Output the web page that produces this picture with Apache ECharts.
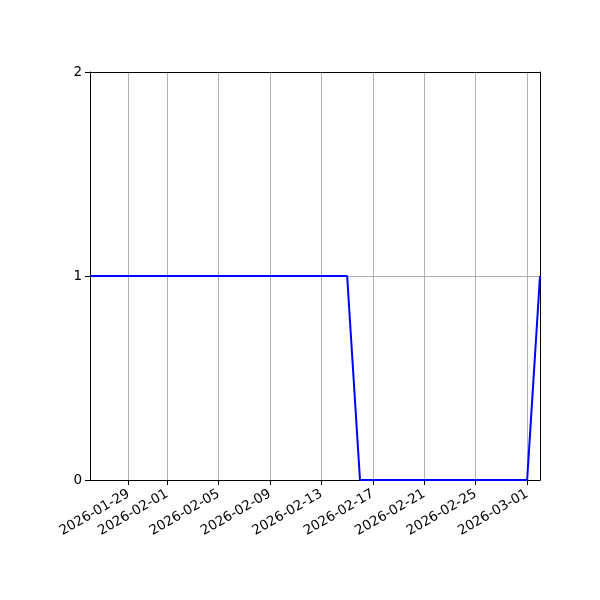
<!DOCTYPE html>
<html>
<head>
<meta charset="utf-8">
<script src="https://cdn.jsdelivr.net/npm/echarts@6/dist/echarts.min.js"></script>
<style>html,body{margin:0;padding:0;background:#fff}#c{width:600px;height:600px}</style>
</head>
<body>
<div id="c"></div>
<script>
// Daily dates from 2026-01-26 to 2026-03-02
const dates = ['2026-01-26','2026-01-27','2026-01-28','2026-01-29','2026-01-30','2026-01-31',
  '2026-02-01','2026-02-02','2026-02-03','2026-02-04','2026-02-05','2026-02-06','2026-02-07',
  '2026-02-08','2026-02-09','2026-02-10','2026-02-11','2026-02-12','2026-02-13','2026-02-14',
  '2026-02-15','2026-02-16','2026-02-17','2026-02-18','2026-02-19','2026-02-20','2026-02-21',
  '2026-02-22','2026-02-23','2026-02-24','2026-02-25','2026-02-26','2026-02-27','2026-02-28',
  '2026-03-01','2026-03-02'];
const values = [1,1,1,1,1,1,1,1,1,1,1,1,1,1,1,1,1,1,1,1,1,
  0,0,0,0,0,0,0,0,0,0,0,0,0,0,1];
const xTickLabels = ['2026-01-29','2026-02-01','2026-02-05','2026-02-09','2026-02-13',
  '2026-02-17','2026-02-21','2026-02-25','2026-03-01'];
const yTicks = [0,1,2];

const isTick = (i, v) => xTickLabels.indexOf(v) >= 0;
const chart = echarts.init(document.getElementById('c'), null, {renderer:'canvas'});
chart.setOption({
  animation:false,
  grid:{left:90,right:60,top:72,bottom:120,show:false},
  xAxis:[{
    type:'category', data:dates, boundaryGap:false, position:'bottom',
    axisLine:{show:true,lineStyle:{color:'#000',width:1}},
    axisTick:{show:true,interval:isTick,length:5,inside:false,lineStyle:{color:'#000',width:1}},
    axisLabel:{interval:isTick,rotate:30,color:'#000',fontFamily:'DejaVu Sans',fontSize:13.5,margin:13},
    splitLine:{show:true,interval:isTick,lineStyle:{color:'#b0b0b0',width:1}}
  },{
    type:'category', data:dates, boundaryGap:false, position:'top',
    axisLine:{show:true,onZero:false,lineStyle:{color:'#000',width:1}},
    axisTick:{show:false}, axisLabel:{show:false}, splitLine:{show:false}
  }],
  yAxis:[{
    type:'value', min:yTicks[0], max:yTicks[yTicks.length-1], interval:1, position:'left',
    axisLine:{show:true,lineStyle:{color:'#000',width:1}},
    axisTick:{show:true,length:5,lineStyle:{color:'#000',width:1}},
    axisLabel:{color:'#000',fontFamily:'DejaVu Sans',fontSize:13.5,margin:8},
    splitLine:{show:true,lineStyle:{color:'#b0b0b0',width:1}}
  },{
    type:'value', min:yTicks[0], max:yTicks[yTicks.length-1], interval:1, position:'right',
    axisLine:{show:true,onZero:false,lineStyle:{color:'#000',width:1}},
    axisTick:{show:false}, axisLabel:{show:false}, splitLine:{show:false}
  }],
  series:[{type:'line',xAxisIndex:0,yAxisIndex:0,data:values,symbol:'none',z:5,lineStyle:{color:'#0000ff',width:2},itemStyle:{color:'#0000ff'}}]
});
</script>
</body>
</html>
